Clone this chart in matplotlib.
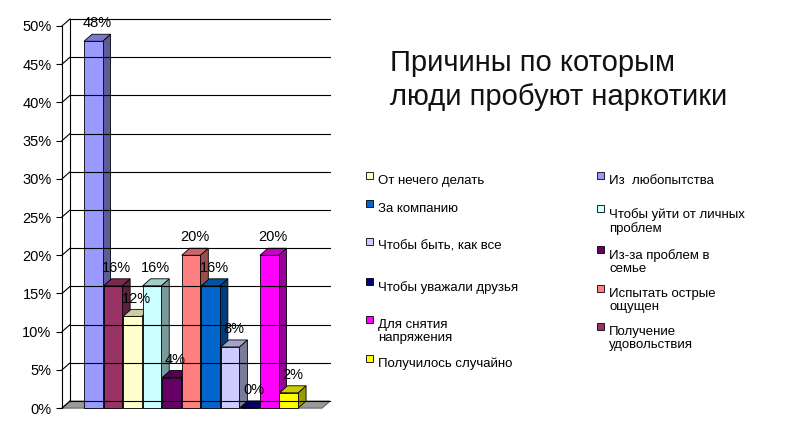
import matplotlib.pyplot as plt
from matplotlib.patches import Polygon, Rectangle

plt.rcParams["font.family"] = "Liberation Sans"

# bars, left to right
reasons = ["Из  любопытства", "Получение\nудовольствия", "От нечего делать",
           "Чтобы уйти от личных\nпроблем", "Из-за проблем в\nсемье",
           "Испытать острые\nощущен", "За компанию", "Чтобы быть, как все",
           "Чтобы уважали друзья", "Для снятия\nнапряжения", "Получилось случайно"]
values = [48, 16, 12, 16, 4, 20, 16, 8, 0, 20, 2]
colors = ["#9999FF", "#993366", "#FFFFCC", "#CCFFFF", "#660066", "#FF8080",
          "#0066CC", "#CCCCFF", "#000080", "#FF00FF", "#FFFF00"]
yticks = list(range(0, 55, 5))

# legend layout (index into reasons) and positions in figure pixels
left_col = [2, 6, 7, 8, 9, 10]
left_y = [182, 210, 248, 288, 326, 365]
right_col = [0, 3, 4, 5, 1]
right_y = [182, 215, 256, 295, 333]


def shade(c, f):
    r, g, b = [int(c[i:i + 2], 16) / 255 for i in (1, 3, 5)]
    return (r * f, g * f, b * f)


fig = plt.figure(figsize=(8, 4.26), dpi=100)
ax = fig.add_axes([0.0775, 0.042, 0.325, 0.897])
x0, x1 = -1.6, 11.7
ax.set_xlim(x0, x1)
ax.set_ylim(0, 50)
dx, dy = 0.41, 0.92
w = 0.95

for s in ax.spines.values():
    s.set_visible(False)
ax.set_xticks([])
ax.set_yticks(yticks)
ax.set_yticklabels([f"{t}%" for t in yticks], fontsize=10.5)
ax.tick_params(axis="y", length=4)
ax.plot([x0, x0], [0, 50], color="black", lw=0.8, clip_on=False)

# back wall gridlines and left wall
for t in yticks:
    ax.plot([x0, x0 + dx], [t, t + dy], color="black", lw=0.8, clip_on=False)
    ax.plot([x0 + dx, x1 + dx], [t + dy, t + dy], color="black", lw=0.8, clip_on=False)
ax.plot([x0 + dx, x0 + dx], [dy, 50 + dy], color="black", lw=0.8, clip_on=False)

# floor
ax.add_patch(Polygon([(x0, 0), (x1, 0), (x1 + dx, dy), (x0 + dx, dy)], closed=True,
                     facecolor="#999999", edgecolor="#666666", lw=0.8, clip_on=False))

for i, (v, c) in enumerate(zip(values, colors)):
    l, r = i - w / 2, i + w / 2
    ax.add_patch(Polygon([(r, 0), (r + dx, dy), (r + dx, v + dy), (r, v)], closed=True,
                         facecolor=shade(c, 0.6), edgecolor="black", lw=0.6, clip_on=False))
    ax.add_patch(Polygon([(l, v), (r, v), (r + dx, v + dy), (l + dx, v + dy)], closed=True,
                         facecolor=shade(c, 0.8), edgecolor="black", lw=0.6, clip_on=False))
    ax.add_patch(Rectangle((l, 0), w, v, facecolor=c, edgecolor="black", lw=0.6, clip_on=False))
    ax.text(i + dx / 2, v + dy + 0.5, f"{v}%", ha="center", va="bottom", fontsize=10.5)

fig.text(390 / 800, 1 - 80 / 426, "Причины по которым\nлюди пробуют наркотики",
         fontsize=21, va="center", ha="left", linespacing=1.25, color="#111111")


def legend_item(idx, px, py):
    fig.patches.append(Rectangle((px / 800, 1 - (py + 4) / 426), 7 / 800, 7 / 426,
                                 transform=fig.transFigure, facecolor=colors[idx],
                                 edgecolor="black", lw=0.6))
    fig.text((px + 12) / 800, 1 - py / 426, reasons[idx], fontsize=9.5, va="top",
             ha="left", linespacing=1.1)


for idx, py in zip(left_col, left_y):
    legend_item(idx, 366, py - 7)
for idx, py in zip(right_col, right_y):
    legend_item(idx, 597, py - 7)

fig.savefig("out.png", dpi=100)
